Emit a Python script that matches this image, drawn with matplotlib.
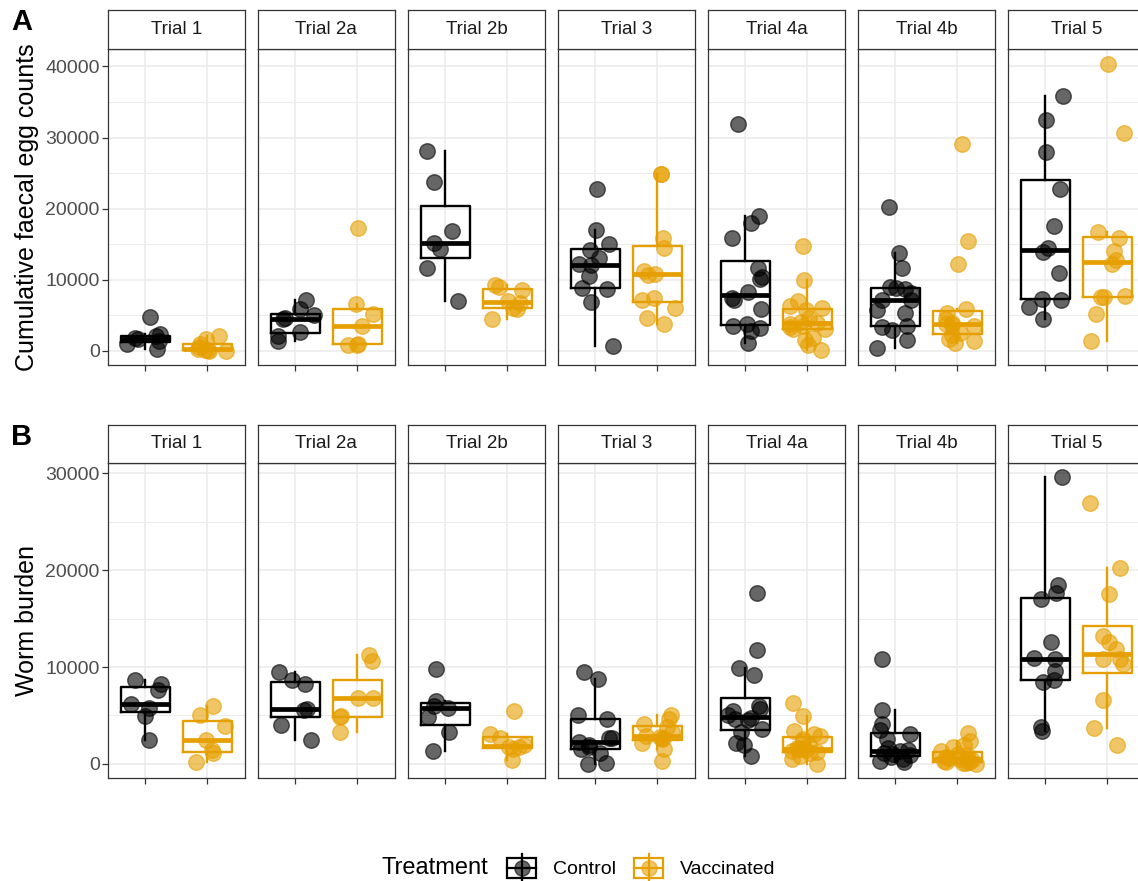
import matplotlib
matplotlib.use("Agg")
import matplotlib.pyplot as plt
import numpy as np
from matplotlib.patches import Rectangle
from matplotlib.lines import Line2D
from matplotlib.legend_handler import HandlerBase

plt.rcParams['font.family'] = ['Liberation Sans', 'DejaVu Sans']

# ---------------- data ----------------
trials = ["Trial 1", "Trial 2a", "Trial 2b", "Trial 3", "Trial 4a", "Trial 4b", "Trial 5"]
treatments = ["Control", "Vaccinated"]
treatment_colors = ["#000000", "#E69F00"]

# Cumulative faecal egg counts (panel A), one list per trial
fec_control = [
    [4800, 2400, 2000, 1800, 1600, 1300, 1000, 200],
    [7200, 5900, 5000, 4600, 4400, 2600, 2000, 1300],
    [28100, 23700, 16900, 15200, 14300, 11700, 7000],
    [22800, 17000, 15000, 14100, 13000, 12200, 12000, 10500, 8800, 8700, 6800, 700],
    [31900, 19000, 18000, 15800, 11600, 10400, 10100, 8300, 7400, 7200, 5900, 3700, 3500, 3200, 2700, 1100],
    [20200, 13800, 11700, 9000, 8800, 8700, 8100, 7200, 7100, 5700, 5300, 3500, 3300, 2900, 1500, 400],
    [35900, 32500, 28000, 22700, 17600, 14400, 13900, 10900, 7300, 7200, 6100, 4500],
]
fec_vaccinated = [
    [2100, 1600, 900, 500, 300, 150, 100, 0, 0],
    [17300, 6600, 5200, 3400, 900, 850, 800],
    [9300, 8900, 8600, 7000, 6700, 6000, 5800, 4500],
    [24900, 24800, 15800, 14400, 11200, 10800, 10700, 7400, 7200, 6000, 4600, 3700],
    [14700, 9900, 7000, 6300, 6000, 5700, 4600, 4000, 3900, 3800, 3500, 3300, 3100, 3000, 1800, 1500, 800, 100],
    [29100, 15500, 12200, 5900, 5300, 4400, 3900, 3700, 3600, 3400, 2500, 2200, 1600, 1300, 1100],
    [40400, 30600, 16700, 15800, 14000, 12700, 12200, 7700, 7600, 7500, 5100, 1400],
]

# Worm burden (panel B)
worm_control = [
    [8700, 8300, 7600, 6200, 5800, 4900, 2500],
    [9500, 8700, 8200, 5700, 5600, 4000, 2500],
    [9800, 6500, 6000, 5800, 4800, 3300, 1300],
    [9500, 8800, 5000, 4600, 2700, 2700, 2300, 2000, 1700, 1500, 1100, 100, 0],
    [17600, 11800, 9900, 9200, 6000, 5700, 5500, 5000, 4700, 4600, 4500, 3600, 3300, 2200, 2000, 800],
    [10800, 5600, 4100, 3500, 3100, 2600, 1600, 1400, 1300, 1100, 1000, 900, 700, 500, 300, 200],
    [29600, 18500, 17600, 17000, 12600, 10900, 10800, 9600, 8700, 8500, 3800, 3400],
]
worm_vaccinated = [
    [6000, 5000, 3900, 2500, 1400, 1100, 200],
    [11200, 10600, 6800, 6800, 4900, 4800, 3300],
    [5500, 3100, 2700, 2000, 1800, 1700, 1500, 400],
    [5000, 4600, 4100, 3800, 3300, 2900, 2800, 2700, 2600, 2200, 1500, 300],
    [6300, 4900, 3400, 3100, 2900, 2600, 2400, 2000, 1600, 1500, 1500, 1400, 1300, 1200, 1100, 800, 500, 0],
    [3200, 2400, 2000, 1700, 1300, 1000, 900, 700, 600, 500, 500, 400, 300, 200, 200, 100, 100, 0],
    [26900, 20200, 17500, 13200, 12600, 11900, 10800, 10800, 10300, 6600, 3700, 2000],
]

fec_ticks = [0, 10000, 20000, 30000, 40000]
worm_ticks = [0, 10000, 20000, 30000]
row_titles = ["Cumulative faecal egg counts", "Worm burden"]
row_tags = ["A", "B"]

# ---------------- layout ----------------
W, H = 1138, 881
fig = plt.figure(figsize=(W / 100, H / 100), dpi=100)


def rect(l, t, r, b):
    return [l / W, 1 - b / H, (r - l) / W, (b - t) / H]


panel_left0, panel_step, panel_w = 108, 150, 136.8
row_geo = [(10, 49.3, 365.0), (425, 462.7, 778.3)]
border = "#333333"
grid_c = "#EBEBEB"

rng = np.random.default_rng(7)

rows = [(fec_control, fec_vaccinated, fec_ticks), (worm_control, worm_vaccinated, worm_ticks)]

for r, (ctrl, vacc, ticks) in enumerate(rows):
    strip_top, ptop, pbot = row_geo[r]
    allv = np.concatenate([np.concatenate([np.asarray(a, float) for a in ctrl]),
                           np.concatenate([np.asarray(a, float) for a in vacc])])
    lo, hi = allv.min(), allv.max()
    pad = 0.05 * (hi - lo)
    ylo, yhi = lo - pad, hi + pad
    minor = [t + 5000 for t in ticks if t + 5000 < yhi]
    for i, trial in enumerate(trials):
        l = panel_left0 + i * panel_step
        ax = fig.add_axes(rect(l, ptop, l + panel_w, pbot))
        ax.set_xlim(0.4, 2.6)
        ax.set_ylim(ylo, yhi)
        ax.set_xticks([1, 2])
        ax.set_yticks(ticks)
        ax.set_yticks(minor, minor=True)
        ax.grid(which="major", color=grid_c, lw=1.1)
        ax.grid(which="minor", axis="y", color=grid_c, lw=0.7)
        ax.set_axisbelow(True)
        for s in ax.spines.values():
            s.set_color(border)
            s.set_linewidth(0.9)
        ax.tick_params(axis="x", length=4, width=0.9, color=border, labelbottom=False)
        ax.tick_params(which="minor", length=0)
        if i == 0:
            ax.tick_params(axis="y", length=4, width=0.9, color=border, labelsize=14,
                           labelcolor="#4D4D4D", pad=2)
            ax.set_yticklabels([str(t) for t in ticks])
        else:
            ax.tick_params(axis="y", length=0, labelleft=False)

        for k, (grp, col) in enumerate(zip([ctrl[i], vacc[i]], treatment_colors)):
            pos = k + 1
            vals = np.asarray(grp, float)
            ax.boxplot([vals], positions=[pos], widths=0.78, whis=1.5, showfliers=False,
                       showcaps=False, manage_ticks=False,
                       boxprops=dict(color=col, lw=1.7),
                       whiskerprops=dict(color=col, lw=1.7),
                       medianprops=dict(color=col, lw=3.4, solid_capstyle="butt"),
                       zorder=2)
            jit = rng.uniform(-0.3, 0.3, len(vals))
            ax.scatter(pos + jit, vals, s=125, c=col, edgecolors=col, linewidths=1.0,
                       alpha=0.6, zorder=3)

        sax = fig.add_axes(rect(l, strip_top, l + panel_w, ptop))
        sax.set_xticks([])
        sax.set_yticks([])
        for s in sax.spines.values():
            s.set_color(border)
            s.set_linewidth(0.9)
        sax.text(0.5, 0.5, trial, ha="center", va="center", fontsize=13.5, color="#1A1A1A",
                 transform=sax.transAxes)

    fig.text(27 / W, 1 - ((ptop + pbot) / 2) / H, row_titles[r], rotation=90,
             ha="center", va="center", fontsize=18)
    fig.text(11 / W, 1 - (strip_top + 12) / H, row_tags[r], ha="left", va="center",
             fontsize=21, fontweight="bold")


# ---------------- legend ----------------
class BoxPointHandler(HandlerBase):
    def create_artists(self, legend, orig_handle, xdescent, ydescent, width, height,
                       fontsize, trans):
        c = orig_handle.get_color()
        x0, y0 = -xdescent, -ydescent
        cx, cy = x0 + width / 2, y0 + height / 2
        bw, bh = width * 0.92, height * 0.95
        box = Rectangle((cx - bw / 2, cy - bh / 2), bw, bh, fill=False, ec=c, lw=1.6,
                        transform=trans)
        wl = Line2D([cx, cx], [cy - bh / 2 - 3, cy + bh / 2 + 3], color=c, lw=1.6,
                    transform=trans)
        ml = Line2D([cx - bw / 2, cx + bw / 2], [cy, cy], color=c, lw=1.6, transform=trans)
        pt = Line2D([cx], [cy], marker="o", ms=11, mfc=c, mec=c, alpha=0.6, ls="none",
                    transform=trans)
        return [box, wl, ml, pt]


handles = [Line2D([], [], color=c) for c in treatment_colors]
fig.legend(handles, treatments, handler_map={Line2D: BoxPointHandler()}, ncol=2,
           loc="center left", bbox_to_anchor=(506 / W, 1 - 868 / H), frameon=False,
           fontsize=14, handlelength=1.6, handleheight=1.25, columnspacing=0.9,
           handletextpad=0.8, borderaxespad=0, borderpad=0)
fig.text(382 / W, 1 - 868 / H, "Treatment", fontsize=17, ha="left", va="center")

fig.savefig("out.png", dpi=100)
